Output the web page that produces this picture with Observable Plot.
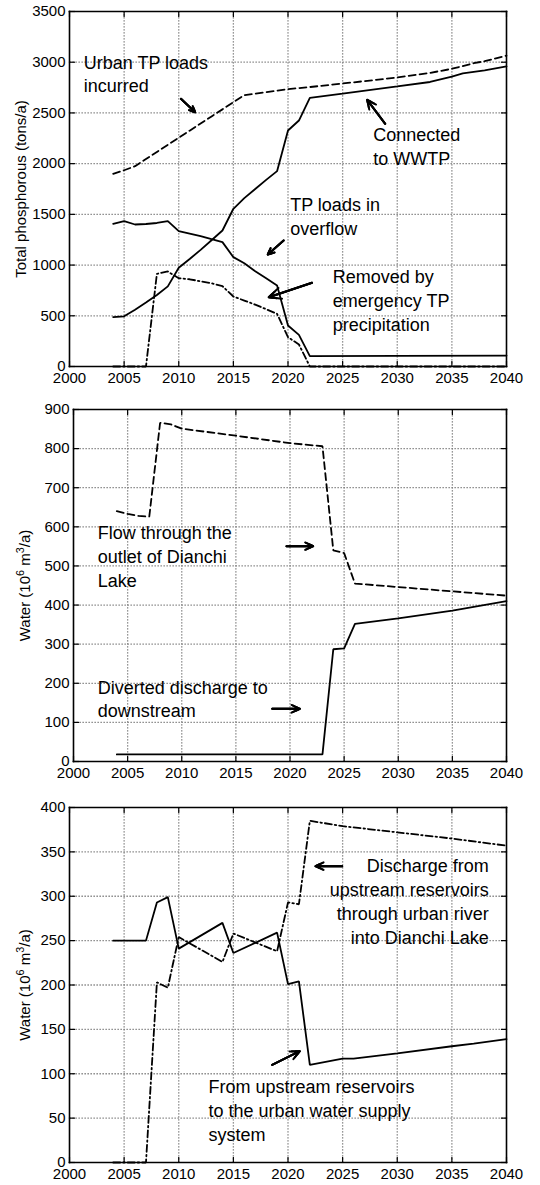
<!DOCTYPE html>
<html><head><meta charset="utf-8">
<script src="https://cdn.jsdelivr.net/npm/d3@7"></script>
<script src="https://cdn.jsdelivr.net/npm/@observablehq/plot@0.6"></script>
<style>
body{margin:0;background:#fff;}
#chart svg{display:block;}
</style></head><body><div id="chart"></div>
<script>
// ---------- tick values ----------
const xTicks = [2000, 2005, 2010, 2015, 2020, 2025, 2030, 2035, 2040];
const yTicks1 = [0, 500, 1000, 1500, 2000, 2500, 3000, 3500];
const yTicks2 = [0, 100, 200, 300, 400, 500, 600, 700, 800, 900];
const yTicks3 = [0, 50, 100, 150, 200, 250, 300, 350, 400];

// ---------- panel 1: total phosphorous (tons/a) ----------
const incurredYears = [2004,2005,2006,2007,2008,2009,2010,2011,2012,2013,2014,2015,2016,2018,2020,2022,2025,2028,2030,2033,2035,2037,2038,2040];
const incurredTP    = [1900,1935,1975,2045,2115,2185,2255,2325,2395,2465,2535,2605,2675,2705,2735,2755,2790,2825,2850,2895,2935,2990,3010,3065];
const connectedYears = [2004,2005,2006,2007,2008,2009,2010,2011,2012,2013,2014,2015,2016,2017,2018,2019,2020,2021,2022,2025,2030,2033,2035,2036,2038,2040];
const connectedTP    = [486,495,560,630,705,790,973,1060,1150,1245,1341,1555,1660,1750,1840,1926,2327,2425,2649,2690,2761,2805,2859,2890,2920,2958];
const overflowYears = [2004,2005,2006,2007,2008,2009,2010,2011,2012,2013,2014,2015,2016,2017,2018,2019,2020,2021,2022,2030,2040];
const overflowTP    = [1407,1433,1400,1405,1415,1433,1334,1310,1285,1255,1226,1078,1018,940,870,799,404,312,102,104,108];
const removedYears = [2004,2005,2006,2007,2008,2009,2010,2011,2012,2013,2014,2015,2016,2017,2018,2019,2020,2021,2022,2040];
const removedTP    = [0,0,0,0,914,937,870,860,840,820,792,690,650,610,565,519,289,217,0,0];

// ---------- panel 2: water (10^6 m3/a) ----------
const outletYears = [2004,2005,2006,2007,2008,2009,2010,2015,2020,2023,2024,2025,2026,2030,2035,2040];
const outletFlow  = [640,633,628,626,866,862,851,833,814,806,540,533,455,446,435,424];
const divertedYears = [2004,2023,2024,2025,2026,2030,2035,2040];
const divertedFlow  = [18,18,287,289,352,366,386,410];

// ---------- panel 3: water (10^6 m3/a) ----------
const supplyYears = [2004,2007,2008,2009,2010,2014,2015,2019,2020,2021,2022,2025,2026,2030,2035,2037,2040];
const supplyFlow  = [250,250,293,299,241,270,236,259,201,204,110,117,117,123,131,134,139];
const riverYears = [2004,2007,2008,2009,2010,2014,2015,2019,2020,2021,2022,2025,2030,2035,2040];
const riverFlow  = [0,0,203,197,254,226,258,238,293,291,385,379,372,365,357];

// ---------- annotation texts ----------
const notes1Text = ["Urban TP loads\nincurred", "Connected\nto WWTP", "TP loads in\noverflow", "Removed by\nemergency TP\nprecipitation"];
const notes1X = [2001.3, 2027.8, 2020.2, 2024.1];
const notes1Y = [3056, 2338, 1648, 942];
const notes1Anchor = ["start", "start", "start", "start"];
const arrows1X1 = [2010.2, 2028.9, 2019.6, 2022.2];
const arrows1Y1 = [2639, 2393, 1242, 825];
const arrows1X2 = [2011.5, 2027.25, 2018.15, 2018.24];
const arrows1Y2 = [2507, 2629, 1104, 683];

const notes2Text = ["Flow through the\noutlet of Dianchi\nLake", "Diverted discharge to\ndownstream"];
const notes2X = [2002.24, 2002.24];
const notes2Y = [600, 204.5];
const notes2Anchor = ["start", "start"];
const arrows2X1 = [2019.68, 2018.36];
const arrows2Y1 = [550.5, 134.7];
const arrows2X2 = [2022.14, 2020.91];
const arrows2Y2 = [550.5, 134.7];

const notes3Text = ["Discharge from\nupstream reservoirs\nthrough urban river\ninto Dianchi Lake", "From upstream reservoirs\nto the urban water supply\nsystem"];
const notes3X = [2038.38, 2012.72];
const notes3Y = [340.5, 91.9];
const notes3Anchor = ["end", "start"];
const arrows3X1 = [2024.96, 2018.55];
const arrows3Y1 = [333.9, 110.1];
const arrows3X2 = [2022.52, 2021.08];
const arrows3Y2 = [333.9, 125.4];

const FONT = "'Liberation Sans', Arial, Helvetica, sans-serif";
const X_DOMAIN = [2000, 2040];
const zip = (xs, ys) => xs.map((x, i) => ({x, y: ys[i]}));

function panel(cfg) {
  const W = 540;
  const innerH = cfg.height - cfg.marginTop - cfg.marginBottom;
  const innerW = W - cfg.marginLeft - cfg.marginRight;
  const [x0, x1] = X_DOMAIN;
  const [y0, y1] = cfg.yDomain;
  const tlY = 5 * (y1 - y0) / innerH;   // 5px tick length in y units
  const tlX = 5 * (x1 - x0) / innerW;   // 5px tick length in x units
  const notes = cfg.notesText.map((t, i) => ({text: t, x: cfg.notesX[i], y: cfg.notesY[i], anchor: cfg.notesAnchor[i]}));
  const arrows = cfg.ax1.map((d, i) => ({x1: d, y1: cfg.ay1[i], x2: cfg.ax2[i], y2: cfg.ay2[i]}));
  const edges = [
    {x1: x0, y1: y0, x2: x1, y2: y0},
    {x1: x0, y1: y1, x2: x1, y2: y1},
    {x1: x0, y1: y0, x2: x0, y2: y1},
    {x1: x1, y1: y0, x2: x1, y2: y1}
  ];
  const vGrid = xTicks.slice(1, -1).map(t => ({x1: t, x2: t, y1: y0, y2: y1}));
  const hGrid = cfg.yTicks.slice(1, -1).map(t => ({x1: x0, x2: x1, y1: t, y2: t}));
  const ticks = [
    ...xTicks.map(t => ({x1: t, x2: t, y1: y0, y2: y0 + tlY})),
    ...xTicks.map(t => ({x1: t, x2: t, y1: y1, y2: y1 - tlY})),
    ...cfg.yTicks.map(t => ({x1: x0, x2: x0 + tlX, y1: t, y2: t})),
    ...cfg.yTicks.map(t => ({x1: x1, x2: x1 - tlX, y1: t, y2: t}))
  ];
  const seg = {x1: "x1", y1: "y1", x2: "x2", y2: "y2"};
  const marks = [
    Plot.link([...vGrid, ...hGrid], {...seg, stroke: "#777777", strokeWidth: 1.3, strokeDasharray: "1.3,1.7"}),
    Plot.link(ticks, {...seg, stroke: "black", strokeWidth: 1.2, strokeLinecap: "square"})
  ];
  for (const s of cfg.series) {
    marks.push(Plot.line(zip(s.years, s.values), {x: "x", y: "y", stroke: "black", strokeWidth: 1.8, strokeDasharray: s.dash, strokeLinejoin: "miter"}));
  }
  marks.push(
    Plot.link(edges, {...seg, stroke: "black", strokeWidth: 1.6, strokeLinecap: "square"}),
    Plot.axisX({ticks: xTicks, tickSize: 0, tickPadding: 6, tickFormat: d => String(d), label: null, fontSize: 15}),
    Plot.axisY({ticks: cfg.yTicks, tickSize: 0, tickPadding: 4, tickFormat: d => String(d), label: cfg.yLabel, labelAnchor: "center", labelOffset: cfg.labelOffset, labelArrow: false, fontSize: 15}),
    Plot.text(notes.filter(d => d.anchor === "start"), {x: "x", y: "y", text: "text", textAnchor: "start", lineAnchor: "top", fontSize: 18, lineHeight: 1.33, fill: "black", dy: -5}),
    Plot.text(notes.filter(d => d.anchor === "end"), {x: "x", y: "y", text: "text", textAnchor: "end", lineAnchor: "top", fontSize: 18, lineHeight: 1.33, fill: "black", dy: -5}),
    Plot.arrow(arrows, {...seg, stroke: "black", strokeWidth: 2, headLength: 10, headAngle: 50}),
    Plot.arrow(arrows, {...seg, stroke: "black", strokeWidth: 2, headLength: 6, headAngle: 50}),
    Plot.arrow(arrows, {...seg, stroke: "black", strokeWidth: 2, headLength: 3, headAngle: 50})
  );
  const svg = Plot.plot({
    width: W, height: cfg.height,
    marginTop: cfg.marginTop, marginBottom: cfg.marginBottom, marginLeft: cfg.marginLeft, marginRight: cfg.marginRight,
    x: {domain: X_DOMAIN},
    y: {domain: cfg.yDomain},
    style: {fontFamily: FONT, fontSize: "15px", color: "black"},
    marks
  });
  if (cfg.superLabel) {
    const t = svg.querySelector('g[aria-label="y-axis label"] text');
    if (t) {
      const target = t.querySelector("tspan") || t;
      const sel = d3.select(target);
      sel.text(null);
      sel.append("tspan").text("Water (10");
      sel.append("tspan").attr("baseline-shift", "super").attr("font-size", "0.72em").text("6");
      sel.append("tspan").text(" m");
      sel.append("tspan").attr("baseline-shift", "super").attr("font-size", "0.72em").text("3");
      sel.append("tspan").text("/a)");
    }
  }
  return svg;
}

const root = document.getElementById("chart");
root.append(panel({
  height: 395, marginTop: 11, marginBottom: 29, marginLeft: 69, marginRight: 34,
  yDomain: [0, 3500], yTicks: yTicks1, yLabel: "Total phosphorous (tons/a)", labelOffset: 54,
  series: [
    {years: incurredYears, values: incurredTP, dash: "7,4"},
    {years: connectedYears, values: connectedTP, dash: null},
    {years: overflowYears, values: overflowTP, dash: null},
    {years: removedYears, values: removedTP, dash: "7,3,1.5,3"}
  ],
  notesText: notes1Text, notesX: notes1X, notesY: notes1Y, notesAnchor: notes1Anchor,
  ax1: arrows1X1, ay1: arrows1Y1, ax2: arrows1X2, ay2: arrows1Y2
}));
root.append(panel({
  height: 395, marginTop: 14, marginBottom: 29, marginLeft: 73, marginRight: 34,
  yDomain: [0, 900], yTicks: yTicks2, yLabel: "Water (10^6 m^3/a)", labelOffset: 54, superLabel: true,
  series: [
    {years: outletYears, values: outletFlow, dash: "7,4"},
    {years: divertedYears, values: divertedFlow, dash: null}
  ],
  notesText: notes2Text, notesX: notes2X, notesY: notes2Y, notesAnchor: notes2Anchor,
  ax1: arrows2X1, ay1: arrows2Y1, ax2: arrows2X2, ay2: arrows2Y2
}));
root.append(panel({
  height: 395, marginTop: 17, marginBottom: 23, marginLeft: 69, marginRight: 34,
  yDomain: [0, 400], yTicks: yTicks3, yLabel: "Water (10^6 m^3/a)", labelOffset: 50, superLabel: true,
  series: [
    {years: supplyYears, values: supplyFlow, dash: null},
    {years: riverYears, values: riverFlow, dash: "7,3,1.5,3"}
  ],
  notesText: notes3Text, notesX: notes3X, notesY: notes3Y, notesAnchor: notes3Anchor,
  ax1: arrows3X1, ay1: arrows3Y1, ax2: arrows3X2, ay2: arrows3Y2
}));
</script></body></html>
